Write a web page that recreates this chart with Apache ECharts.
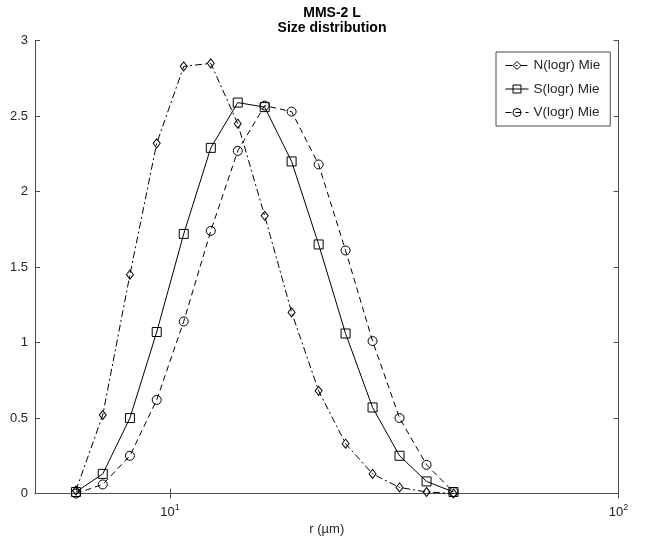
<!DOCTYPE html>
<html>
<head>
<meta charset="utf-8">
<script src="https://cdn.jsdelivr.net/npm/echarts@6/dist/echarts.min.js"></script>
<style>html,body{margin:0;padding:0;background:#fff}#c{width:650px;height:542px}</style>
</head>
<body>
<div id="c"></div>
<script>
var radii = [6.17, 7.08, 8.14, 9.34, 10.73, 12.33, 14.16, 16.26, 18.67, 21.45, 24.63, 28.29, 32.49, 37.33, 42.86];
var nValues = [0.02, 0.52, 1.45, 2.32, 2.83, 2.85, 2.45, 1.84, 1.20, 0.68, 0.33, 0.13, 0.04, 0.01, 0.00];
var sValues = [0.01, 0.13, 0.50, 1.07, 1.72, 2.29, 2.59, 2.56, 2.20, 1.65, 1.06, 0.57, 0.25, 0.08, 0.01];
var vValues = [0.00, 0.06, 0.25, 0.62, 1.14, 1.74, 2.27, 2.57, 2.53, 2.18, 1.61, 1.01, 0.50, 0.19, 0.01];
var seriesNames = ['N(logr) Mie', 'S(logr) Mie', 'V(logr) Mie'];
var xTickValues = [10, 100];
var yTicks = [0, 0.5, 1, 1.5, 2, 2.5, 3];

var FONT = 'Liberation Sans, Arial, Helvetica, sans-serif';
var TXT = '#262626';
var AX = '#4d4d4d';

function pairs(vals) { return radii.map(function (r, i) { return [r, vals[i]]; }); }

var chart = echarts.init(document.getElementById('c'), null, {renderer: 'canvas'});
var hollow = {color: 'rgba(0,0,0,0)', borderColor: '#000', borderWidth: 1};
chart.setOption({
  animation: false,
  backgroundColor: '#fff',
  textStyle: {fontFamily: FONT},
  title: {
    text: 'MMS-2 L\nSize distribution',
    left: 327, top: 1, textAlign: 'center',
    textStyle: {fontFamily: FONT, fontSize: 14, fontWeight: 'bold', color: '#000', lineHeight: 15}
  },
  grid: {left: 35, right: 31.5, top: 40.7, bottom: 48.5, containLabel: false},
  legend: {
    orient: 'vertical', left: 496, top: 52,
    padding: [6, 10, 6, 9], itemGap: 8.5, itemWidth: 23, itemHeight: 10,
    borderColor: AX, borderWidth: 1, backgroundColor: '#fff',
    itemStyle: {borderWidth: 1},
    lineStyle: {width: 1},
    textStyle: {fontFamily: FONT, fontSize: 13.5, color: TXT, lineHeight: 15},
    data: seriesNames
  },
  xAxis: [{
    type: 'log', logBase: 10, min: 5, max: 100,
    name: 'r (µm)', nameLocation: 'middle', nameGap: 28,
    nameTextStyle: {fontFamily: FONT, fontSize: 13, color: TXT},
    axisLine: {lineStyle: {color: AX, width: 1}},
    axisTick: {inside: true, length: 5, customValues: xTickValues, lineStyle: {color: AX}},
    axisLabel: {
      customValues: xTickValues, margin: 10, color: TXT, fontFamily: FONT, fontSize: 13,
      formatter: function (v) { var e = Math.round(Math.log10(v)); return '{b|10}{s|' + e + '}'; },
      rich: {b: {fontSize: 13, fontFamily: FONT, color: TXT}, s: {fontSize: 9, fontFamily: FONT, color: TXT, padding: [0, 0, 8, 0]}}
    },
    splitLine: {show: false}, minorTick: {show: false}
  }, {
    type: 'log', logBase: 10, min: 5, max: 100, position: 'top',
    axisLine: {lineStyle: {color: AX, width: 1}},
    axisTick: {inside: true, length: 5, customValues: xTickValues, lineStyle: {color: AX}},
    axisLabel: {show: false}, splitLine: {show: false}
  }],
  yAxis: [{
    type: 'value', min: 0, max: 3, interval: 0.5,
    axisLine: {show: true, lineStyle: {color: AX, width: 1}},
    axisTick: {show: true, inside: true, length: 5, lineStyle: {color: AX}},
    axisLabel: {margin: 7, color: TXT, fontFamily: FONT, fontSize: 13,
      formatter: function (v) { return String(v); }},
    splitLine: {show: false}
  }, {
    type: 'value', min: 0, max: 3, interval: 0.5, position: 'right',
    axisLine: {show: true, lineStyle: {color: AX, width: 1}},
    axisTick: {show: true, inside: true, length: 5, lineStyle: {color: AX}},
    axisLabel: {show: false}, splitLine: {show: false}
  }],
  series: [{
    name: seriesNames[0], type: 'line', xAxisIndex: 0, yAxisIndex: 0,
    data: pairs(nValues), symbol: 'diamond', symbolSize: [7, 9],
    lineStyle: {color: '#000', width: 1, type: [7, 3, 2, 3]},
    itemStyle: hollow, color: '#000'
  }, {
    name: seriesNames[1], type: 'line', xAxisIndex: 0, yAxisIndex: 0,
    data: pairs(sValues), symbol: 'rect', symbolSize: 9,
    lineStyle: {color: '#000', width: 1, type: 'solid'},
    itemStyle: hollow, color: '#000'
  }, {
    name: seriesNames[2], type: 'line', xAxisIndex: 0, yAxisIndex: 0,
    data: pairs(vValues), symbol: 'circle', symbolSize: 9,
    lineStyle: {color: '#000', width: 1, type: [6, 4]},
    itemStyle: hollow, color: '#000'
  }]
});
</script>
</body>
</html>
